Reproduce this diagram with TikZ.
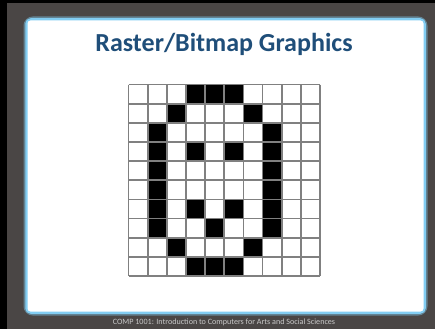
\documentclass[tikz,border=0pt]{standalone}
\usepackage{fontspec}
\setmainfont{Carlito}
\usepackage{xcolor}
\usepackage{tikz}
\usetikzlibrary{positioning}

\definecolor{slidebg}{RGB}{74,70,69}
\definecolor{titleblue}{RGB}{31,78,121}
\definecolor{glowblue}{RGB}{130,205,242}
\definecolor{footgray}{RGB}{200,200,200}

\begin{document}
\begin{tikzpicture}[x=1pt, y=-1pt,
  cell/.style={fill=black},
  gridline/.style={draw=gray, line width=1.8pt}]
\useasboundingbox (0,0) rectangle (435,329);
\fill[slidebg] (0,0) rectangle (435,329);
\fill[black] (0,0) rectangle (7,329);
\fill[black] (0,0) rectangle (435,3);

% slide panel with blue glow
\draw[glowblue!45!slidebg, line width=7pt, rounded corners=6pt] (27,20) rectangle (424,312);
\draw[glowblue, line width=3.5pt, rounded corners=4pt] (27,20) rectangle (424,312);
\fill[white, rounded corners=3pt] (27.5,20.5) rectangle (423.5,311.5);

\node[font=\bfseries\fontsize{26}{30}\selectfont, text=titleblue] (title) at (224,44) {Raster/Bitmap Graphics};

% the letter, cell by cell (row/column)
\foreach \r/\c in {0/3,0/4,0/5, 1/2,1/6, 2/1,2/7, 3/1,3/3,3/5,3/7, 4/1,4/7, 5/1,5/7,
                   6/1,6/3,6/5,6/7, 7/1,7/4,7/7, 8/2,8/6, 9/3,9/4,9/5}
  \fill[cell] (128.5+19.15*\c, 84.5+19.15*\r) rectangle ++(19.15,19.15);

\foreach \i in {0,...,10} {
  \draw[gridline] (128.5+19.15*\i, 84.5) -- ++(0,191.5);
  \draw[gridline] (128.5, 84.5+19.15*\i) -- ++(191.5,0);
}

\node[font=\fontsize{8.1}{9}\selectfont, text=footgray] (footer) at (224,322) {COMP 1001: Introduction to Computers for Arts and Social Sciences};
\end{tikzpicture}
\end{document}
